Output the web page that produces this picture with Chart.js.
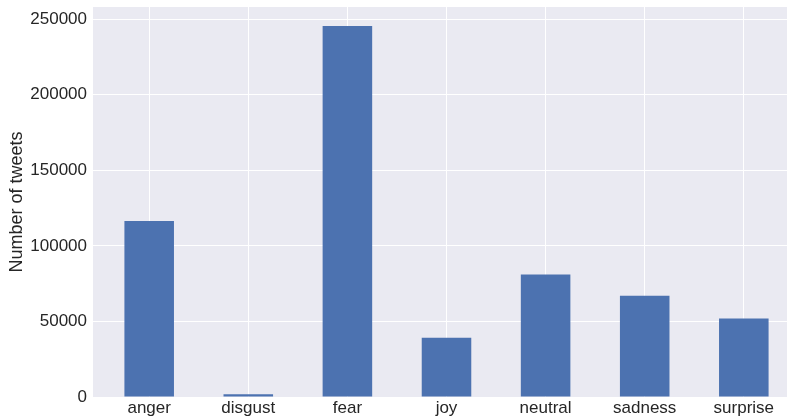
<!DOCTYPE html>
<html><head><meta charset="utf-8">
<script src="https://cdn.jsdelivr.net/npm/chart.js@4/dist/chart.umd.min.js"></script>
<style>
html,body{margin:0;padding:0;background:#fff;overflow:hidden;}
#wrap{width:787px;height:419px;overflow:hidden;position:relative;}
#box{width:800px;height:419px;position:absolute;left:0;top:0;}
</style></head>
<body>
<div id="wrap"><div id="box"><canvas id="c"></canvas></div></div>
<script>
const categories = ["anger","disgust","fear","joy","neutral","sadness","surprise"];
const tweetCounts = [116500, 1800, 245500, 39200, 81000, 67000, 52000];
const yTicks = [0, 50000, 100000, 150000, 200000, 250000];

const bgPlugin = {
  id: 'bg',
  beforeDraw(chart){
    const {ctx, chartArea:a} = chart;
    ctx.save();
    ctx.fillStyle = '#EAEAF2';
    ctx.fillRect(a.left, a.top, a.right-a.left, a.bottom-a.top);
    ctx.restore();
  }
};

new Chart(document.getElementById('c'), {
  type: 'bar',
  data: {
    datasets: [{
      data: categories.map((c,i)=>({x:i, y:tweetCounts[i]})),
      backgroundColor: '#4C72B0',
      borderWidth: 0,
      categoryPercentage: 1.0,
      barPercentage: 0.5
    }]
  },
  options: {
    responsive: true,
    maintainAspectRatio: false,
    animation: false,
    layout: {padding: {top: 7, right: 0, left: 0, bottom: 0}},
    plugins: {legend:{display:false}, tooltip:{enabled:false}},
    scales: {
      x: {
        type: 'linear',
        offset: false,
        min: -0.567, max: 6.567,
        afterBuildTicks(s){ s.ticks = categories.map((c,i)=>({value:i})); },
        afterFit(s){ s.height = 22; s.paddingLeft = 0; s.paddingRight = 0; },
        grid: {color:'#ffffff', lineWidth:1, drawTicks:false, offset:false},
        border: {display:false},
        ticks: {
          callback:(v)=>categories[v],
          color:'#262626', padding:1, maxRotation:0, autoSkip:false,
          font:{family:'"Liberation Sans", Arial, sans-serif', size:17}
        }
      },
      y: {
        min: 0, max: 258000,
        afterBuildTicks(s){ s.ticks = yTicks.map(v=>({value:v})); },
        afterFit(s){ s.width = 93; s.paddingTop = 0; s.paddingBottom = 0; },
        grid: {color:'#ffffff', lineWidth:1, drawTicks:false},
        border: {display:false},
        ticks: {
          color:'#262626', padding:6,
          callback:(v)=>String(v),
          font:{family:'"Liberation Sans", Arial, sans-serif', size:17}
        },
        title: {
          display:true, text:'Number of tweets', color:'#262626', padding:{top:6,bottom:0},
          font:{family:'"Liberation Sans", Arial, sans-serif', size:18}
        }
      }
    }
  },
  plugins:[bgPlugin]
});
</script>
</body></html>
